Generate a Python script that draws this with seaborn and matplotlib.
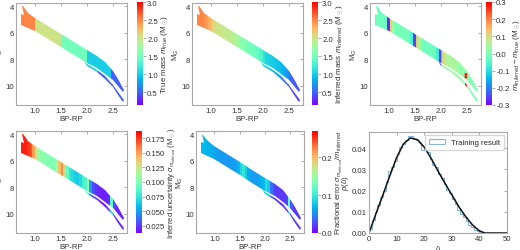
import numpy as np
import matplotlib
matplotlib.use("Agg")
import matplotlib.pyplot as plt
import seaborn as sns
import pandas as pd
from matplotlib.path import Path
from matplotlib.patches import PathPatch, Patch
from matplotlib.colors import Normalize

sns.set_style("white")
plt.rcParams["font.family"] = ["Liberation Sans", "DejaVu Sans"]
plt.rcParams["mathtext.fontset"] = "custom"
plt.rcParams["mathtext.rm"] = "Liberation Sans"
plt.rcParams["mathtext.it"] = "Liberation Sans:italic"
plt.rcParams["mathtext.bf"] = "Liberation Sans:bold"

# ---------------- data ----------------
# outline of the main sequence band (BP-RP, M_G)
band_bp = [0.740, 0.740, 0.80, 0.750, 0.766, 0.87, 1.00, 1.25, 1.50, 1.75, 2.00, 2.20, 2.35, 2.50, 2.60, 2.715,
           2.70, 2.60, 2.50, 2.35, 2.20, 2.00, 1.75, 1.50, 1.25, 1.00]
band_mg = [5.38, 4.55, 4.68, 3.97, 3.95, 4.50, 4.87, 5.49, 6.10, 6.72, 7.33, 7.73, 8.18, 8.88, 9.50, 10.28,
           10.44, 10.00, 9.56, 9.08, 8.68, 8.25, 7.68, 7.10, 6.50, 5.88]
# outline of the lower thin strand
strand_bp = [1.95, 2.00, 2.20, 2.35, 2.50, 2.60, 2.715, 2.70, 2.60, 2.50, 2.35, 2.20, 2.00]
strand_mg = [8.15, 8.33, 8.80, 9.28, 9.95, 10.50, 11.05, 11.22, 10.66, 10.12, 9.45, 8.97, 8.48]

bins_main = [0.70, 0.75, 0.80, 0.85, 0.90, 0.95, 1.00, 1.05, 1.10, 1.15, 1.20, 1.25, 1.30, 1.35, 1.40,
             1.45, 1.50, 1.55, 1.60, 1.65, 1.70, 1.75, 1.80, 1.85, 1.90, 1.95, 2.00, 2.05, 2.10, 2.15,
             2.20, 2.25, 2.30, 2.35, 2.40, 2.45, 2.50, 2.55, 2.60, 2.65, 2.70, 2.75]
bins_strand = [1.95, 2.00, 2.05, 2.10, 2.15, 2.20, 2.25, 2.30, 2.35, 2.40, 2.45, 2.50, 2.55, 2.60,
               2.65, 2.70, 2.75]

# panel 1: true mass
true_main_edges = [0.70, 1.00, 1.50, 2.00, 2.47, 2.75]
true_main = [2.5, 2.0, 1.5, 1.0, 0.5]
true_strand_edges = [1.95, 2.22, 2.75]
true_strand = [1.0, 0.5]

# panel 2: inferred mass
inferred_main = [2.50, 2.50, 2.50, 2.45, 2.40, 2.30,
                 2.15, 2.05, 2.00, 2.00, 1.98, 1.95, 1.95, 1.92, 1.90, 1.85,
                 1.75, 1.65, 1.60, 1.55, 1.52, 1.50, 1.48, 1.45, 1.40, 1.30,
                 1.15, 1.05, 1.02, 1.00, 0.98, 0.95, 0.92, 0.88, 0.82, 0.70,
                 0.55, 0.50, 0.48, 0.45, 0.42]
inferred_strand = [1.20, 1.05, 1.00, 0.95, 0.90, 0.85, 0.80, 0.70, 0.60, 0.55, 0.50, 0.45,
                   0.42, 0.40, 0.38, 0.35]

# panel 3: inferred - true
diff_main_edges = [0.70, 0.97, 1.00, 1.025, 1.06, 1.10, 1.40, 1.47, 1.50, 1.53, 1.57, 1.62,
                   1.90, 1.97, 2.00, 2.03, 2.08, 2.30, 2.46, 2.50, 2.75]
diff_main = [-0.02, -0.27, 0.28, 0.12, 0.05, -0.01, -0.06, -0.25, 0.28, 0.12, 0.05, -0.02,
             -0.07, -0.25, 0.20, 0.10, 0.05, 0.02, 0.03, 0.00]
diff_strand_edges = [1.95, 2.00, 2.03, 2.47, 2.50, 2.75]
diff_strand = [-0.25, 0.15, 0.03, 0.30, 0.00]
diff_dots_bp = [2.48, 2.48]
diff_dots_mg = [9.15, 9.35]
diff_dots = [0.30, 0.28]

# panel 4: inferred uncertainty
unc_main = [0.180, 0.180, 0.180, 0.175, 0.170, 0.150,
            0.125, 0.110, 0.105, 0.105, 0.102, 0.100, 0.100, 0.100, 0.110, 0.140,
            0.155, 0.130, 0.090, 0.075, 0.070, 0.065, 0.065, 0.070, 0.080, 0.085,
            0.110, 0.050, 0.030, 0.025, 0.022, 0.020, 0.020, 0.020, 0.022, 0.090,
            0.030, 0.020, 0.020, 0.020, 0.020]
unc_strand = [0.085, 0.100, 0.050, 0.030, 0.025, 0.022, 0.020, 0.020, 0.020, 0.022, 0.065,
              0.030, 0.020, 0.020, 0.020, 0.020]

# panel 5: fractional error
frac_main = [0.070, 0.070, 0.070, 0.068, 0.066, 0.065,
             0.060, 0.058, 0.056, 0.055, 0.055, 0.055, 0.055, 0.056, 0.058, 0.070,
             0.085, 0.095, 0.080, 0.065, 0.060, 0.058, 0.058, 0.060, 0.065, 0.070,
             0.090, 0.080, 0.040, 0.025, 0.020, 0.020, 0.020, 0.020, 0.022, 0.120,
             0.030, 0.020, 0.020, 0.020, 0.020]
frac_strand = [0.070, 0.090, 0.080, 0.040, 0.025, 0.020, 0.020, 0.020, 0.020, 0.022, 0.080,
               0.030, 0.020, 0.020, 0.020, 0.020]

# panel 6: training histogram and model curve
hist_edges = [0, 1, 2, 3, 4, 5, 6, 7, 8, 9, 10, 11, 12, 13, 14, 15, 16, 17, 18, 19, 20, 21,
              22, 23, 24, 25, 26, 27, 28, 29, 30, 31, 32, 33, 34, 35, 36, 37, 38, 39, 40, 41, 42]
hist_vals = [0.002, 0.006, 0.010, 0.013, 0.017, 0.020, 0.024, 0.029, 0.031, 0.034,
             0.037, 0.0405, 0.042, 0.044, 0.0455, 0.0455, 0.0445, 0.044, 0.043, 0.039,
             0.040, 0.038, 0.035, 0.032, 0.031, 0.028, 0.026, 0.023, 0.0205, 0.019,
             0.016, 0.0135, 0.011, 0.009, 0.0075, 0.0055, 0.004, 0.0028, 0.0015, 0.0008,
             0.0003, 0.0001]
u_curve = [0, 2.5, 5, 7.5, 10, 12.5, 15, 17.5, 20, 22.5, 25, 27.5, 30, 32.5, 35, 37.5, 40, 42, 45, 50]
p_curve = [0, 0.0090, 0.0178, 0.0268, 0.0355, 0.0420, 0.0448, 0.0440, 0.0405, 0.0352, 0.0292,
           0.0235, 0.0180, 0.0125, 0.0078, 0.0038, 0.0010, 0.0, 0.0, 0.0]

# ---------------- layout ----------------
W, H = 520, 251
fig = plt.figure(figsize=(W / 100, H / 100), dpi=100)


def rect(l, t, r, b):
    return [l / W, (H - b) / H, (r - l) / W, (b - t) / H]


TXT = "#333333"
SPN = "#a8a8a8"
FS = 5.6
cmap = plt.get_cmap("rainbow")


def band(ax, edges, vals, poly_bp, poly_mg, norm):
    mesh = ax.pcolormesh(np.asarray(edges, float), np.array([3.5, 11.6]),
                         np.asarray(vals, float)[None, :], cmap=cmap, norm=norm,
                         shading="flat", antialiased=False, linewidth=0)
    verts = np.column_stack([poly_bp, poly_mg])
    verts = np.vstack([verts, verts[:1]])
    patch = PathPatch(Path(verts, closed=True), transform=ax.transData, fc="none", ec="none")
    ax.add_patch(patch)
    mesh.set_clip_path(patch)
    return mesh


def style(ax):
    ax.tick_params(direction="in", top=True, right=True, labelsize=FS, length=2, width=0.5,
                   color="#888888", labelcolor=TXT, pad=1.5)
    for s in ax.spines.values():
        s.set_color(SPN)
        s.set_linewidth(0.8)


def style_cmd(ax):
    ax.set_xlim(0.64, 2.77)
    ax.set_ylim(11.45, 3.75)
    ax.set_xticks([1.0, 1.5, 2.0, 2.5])
    ax.set_yticks([4, 6, 8, 10])
    ax.set_xlabel("BP-RP", fontsize=FS, labelpad=0.5, color=TXT)
    ax.set_ylabel("M$_G$", fontsize=FS, labelpad=0.3, color=TXT)
    style(ax)


def cbar(mesh, r, label, ticks, fmt, lfs):
    cax = fig.add_axes(rect(*r))
    cb = fig.colorbar(mesh, cax=cax, ticks=ticks, format=fmt)
    cb.outline.set_visible(False)
    cax.tick_params(labelsize=FS, length=2, width=0.5, pad=1, color="#888888", labelcolor=TXT)
    cb.set_label(label, fontsize=lfs, labelpad=0.8, color=TXT)
    return cb


panels = [
    dict(ax=(16, 4, 127, 106), cb=(137, 3, 143, 106), lfs=5.8,
         main=(true_main_edges, true_main), strand=(true_strand_edges, true_strand),
         norm=Normalize(0.15, 3.0), ticks=[0.5, 1.0, 1.5, 2.0, 2.5, 3.0], fmt="%.1f",
         label="True mass $m_{true}$ (M$_\\odot$)"),
    dict(ax=(192, 4, 303, 106), cb=(312, 3, 318, 106), lfs=5.8,
         main=(bins_main, inferred_main), strand=(bins_strand, inferred_strand),
         norm=Normalize(0.15, 3.0), ticks=[0.5, 1.0, 1.5, 2.0, 2.5, 3.0], fmt="%.1f",
         label="Inferred mass $m_{inferred}$ (M$_\\odot$)"),
    dict(ax=(370, 4, 481, 106), cb=(486, 3, 492, 106), lfs=5.8,
         main=(diff_main_edges, diff_main), strand=(diff_strand_edges, diff_strand),
         norm=Normalize(-0.3, 0.3), ticks=[-0.3, -0.2, -0.1, 0.0, 0.1, 0.2, 0.3], fmt="%.1f",
         label="$m_{inferred} - m_{true}$ (M$_\\odot$)"),
    dict(ax=(16, 132, 127, 234), cb=(136, 132, 142, 234), lfs=5.5,
         main=(bins_main, unc_main), strand=(bins_strand, unc_strand),
         norm=Normalize(0.013, 0.187), ticks=[0.025, 0.05, 0.075, 0.1, 0.125, 0.15, 0.175],
         fmt="%.3f", label="Inferred uncertainty $\\sigma_{m_{inferred}}$ (M$_\\odot$)"),
    dict(ax=(196, 132, 304, 234), cb=(312, 132, 318, 234), lfs=5.5,
         main=(bins_main, frac_main), strand=(bins_strand, frac_strand),
         norm=Normalize(0.0, 0.27), ticks=[0.0, 0.1, 0.2], fmt="%.1f",
         label="Fractional error $\\sigma_{m_{inferred}}/m_{inferred}$"),
]

for i, p in enumerate(panels):
    ax = fig.add_axes(rect(*p["ax"]))
    m = band(ax, p["main"][0], p["main"][1], band_bp, band_mg, p["norm"])
    band(ax, p["strand"][0], p["strand"][1], strand_bp, strand_mg, p["norm"])
    if i == 2:
        ax.scatter(diff_dots_bp, diff_dots_mg, c=diff_dots, cmap=cmap, norm=p["norm"], s=4,
                   linewidths=0, zorder=3)
    style_cmd(ax)
    cbar(m, p["cb"], p["label"], p["ticks"], p["fmt"], p["lfs"])

# panel 6
ax6 = fig.add_axes(rect(369, 133, 507, 234))
hcolor = "#86b6d8"
centers = [(a + b) / 2 for a, b in zip(hist_edges[:-1], hist_edges[1:])]
df_h = pd.DataFrame({"u": centers, "p": hist_vals})
sns.histplot(data=df_h, x="u", weights="p", bins=hist_edges, element="step", fill=False,
             color=hcolor, linewidth=0.8, ax=ax6)
sns.lineplot(x=u_curve, y=p_curve, color="#111111", linewidth=1.1, ax=ax6)
ax6.set_xlim(0, 50)
ax6.set_ylim(0, 0.0476)
ax6.set_xticks([0, 10, 20, 30, 40, 50])
ax6.set_yticks([0.0, 0.01, 0.02, 0.03, 0.04])
ax6.yaxis.set_major_formatter("{x:.2f}")
ax6.set_xlabel("$\\hat{u}$", fontsize=FS, labelpad=0.5, color=TXT)
ax6.set_ylabel("$p(\\hat{u})$", fontsize=FS, labelpad=0.3, color=TXT)
style(ax6)
ax6.legend(handles=[Patch(fc="none", ec=hcolor, lw=0.8, label="Training result")],
           loc="upper right", fontsize=FS, frameon=True, edgecolor="#cccccc", fancybox=False,
           borderpad=0.5, handlelength=2.0, borderaxespad=0.4)

fig.savefig("out.png", dpi=100)
